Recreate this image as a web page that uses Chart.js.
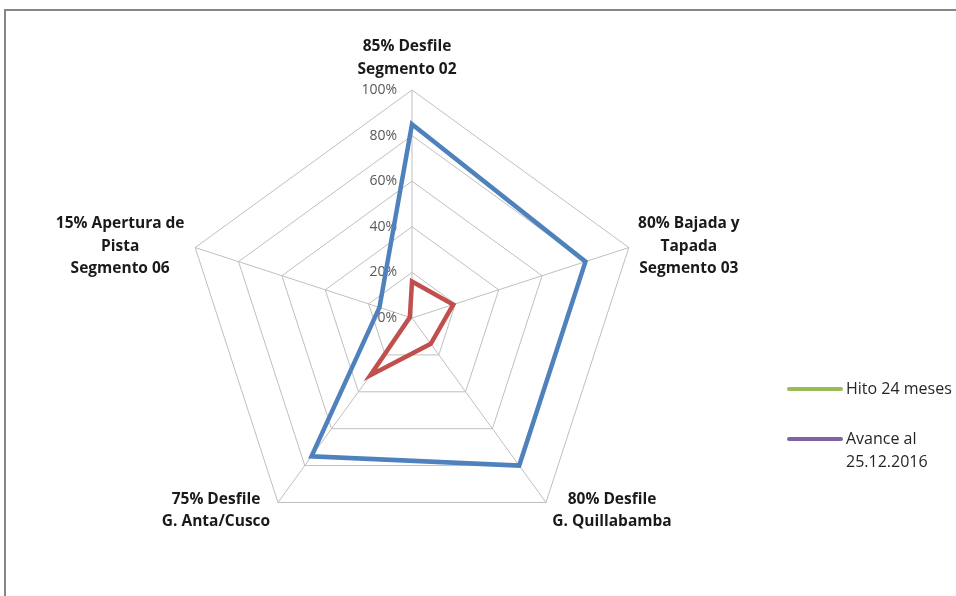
<!DOCTYPE html>
<html>
<head>
<meta charset="utf-8">
<script src="https://cdn.jsdelivr.net/npm/chart.js@4"></script>
<style>
    html, body { margin: 0; padding: 0; background: #fff; }
    #wrap { position: relative; width: 956px; height: 596px; overflow: hidden; }
    #frame { position: absolute; left: 4px; top: 9px; width: 960px; height: 600px;
        border-left: 2px solid #868686; border-top: 2px solid #868686; }
    #chart { position: absolute; left: 0; top: 0; }
    .legend-item { position: absolute; left: 787px; display: flex; align-items: flex-start;
        font: 16px "Open Sans", Lato, sans-serif; color: #262626; line-height: 23px; }
    .legend-item .swatch { width: 56px; height: 4px; border-radius: 2px; margin-top: 10px; margin-right: 3px; }
</style>
</head>
<body>
<div id="wrap">
    <div id="frame"></div>
    <canvas id="chart" width="956" height="596"></canvas>
    <div id="legend"></div>
</div>
<script>
const categories = [
    ['85% Desfile', 'Segmento 02'],
    ['80% Bajada y', 'Tapada', 'Segmento 03'],
    ['80% Desfile', 'G. Quillabamba'],
    ['75% Desfile', 'G. Anta/Cusco'],
    ['15% Apertura de', 'Pista', 'Segmento 06']
];
const hitoValues = [85, 80, 80, 75, 15];
const avanceValues = [16, 19, 14, 31, 1];
const seriesNames = ['Hito 24 meses', ['Avance al', '25.12.2016']];
const lineColors = ['#4f81bd', '#c0504d'];
const legendColors = ['#9bbb59', '#8064a2'];
const tickValues = [0, 20, 40, 60, 80, 100];

// label block offsets from each outer vertex (Excel-style placement)
const labelOffsets = [[-5, -32], [60, -1], [66, 8], [-62, 8], [-75, -1]];

const customLabels = {
    id: 'customLabels',
    beforeDatasetsDraw(chart) {
        const r = chart.scales.r, ctx = chart.ctx;
        ctx.save();
        ctx.font = '14px "Open Sans", Lato, sans-serif';
        ctx.fillStyle = '#595959';
        ctx.textAlign = 'right';
        ctx.textBaseline = 'middle';
        r.ticks.forEach(t => {
            const d = r.getDistanceFromCenterForValue(t.value);
            ctx.fillText(t.value + '%', r.xCenter - 15, r.yCenter - d);
        });
        ctx.restore();
    },
    afterDraw(chart) {
        const r = chart.scales.r, ctx = chart.ctx;
        ctx.save();
        ctx.font = 'bold 15.5px "Open Sans", Lato, sans-serif';
        ctx.fillStyle = '#1a1a1a';
        ctx.textAlign = 'center';
        ctx.textBaseline = 'middle';
        const lh = 22.5;
        categories.forEach((lines, i) => {
            const p = r.getPointPosition(i, r.drawingArea);
            const cx = p.x + labelOffsets[i][0];
            const cy = p.y + labelOffsets[i][1];
            const top = cy - (lines.length - 1) * lh / 2;
            lines.forEach((ln, j) => ctx.fillText(ln, cx, top + j * lh));
        });
        ctx.restore();
    }
};

new Chart(document.getElementById('chart'), {
    type: 'radar',
    data: {
        labels: categories,
        datasets: [
            { label: 'Hito 24 meses', data: hitoValues, borderColor: lineColors[0], borderWidth: 4.5,
              fill: false, pointRadius: 0, borderJoinStyle: 'miter' },
            { label: 'Avance al 25.12.2016', data: avanceValues, borderColor: lineColors[1], borderWidth: 4.5,
              fill: false, pointRadius: 0, borderJoinStyle: 'miter' }
        ]
    },
    options: {
        responsive: false,
        animation: false,
        layout: { padding: { left: 184, top: 90, right: 316, bottom: 50 } },
        plugins: { legend: { display: false }, tooltip: { enabled: false } },
        scales: {
            r: {
                min: 0, max: 100,
                ticks: { display: false, stepSize: 20 },
                pointLabels: { display: false },
                grid: { color: '#bfbfbf', lineWidth: 1 },
                angleLines: { color: '#bfbfbf', lineWidth: 1 }
            }
        }
    },
    plugins: [customLabels]
});

const legend = document.getElementById('legend');
const legendTops = [377, 427];
seriesNames.forEach((name, i) => {
    const item = document.createElement('div');
    item.className = 'legend-item';
    item.style.top = legendTops[i] + 'px';
    const lines = Array.isArray(name) ? name : [name];
    item.innerHTML = `<span class="swatch" style="background:${legendColors[i]}"></span><span>${lines.join('<br>')}</span>`;
    legend.appendChild(item);
});
</script>
</body>
</html>
